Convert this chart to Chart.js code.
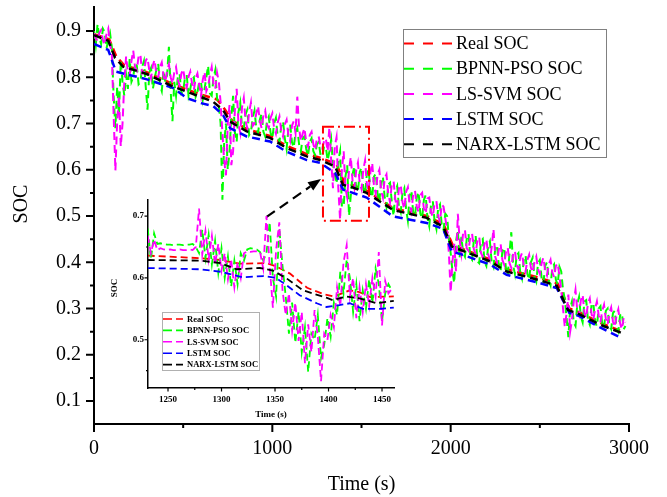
<!DOCTYPE html>
<html>
<head>
<meta charset="utf-8">
<script src="https://cdn.jsdelivr.net/npm/chart.js@4.4.0/dist/chart.umd.min.js"></script>
<style>
  html, body { margin: 0; padding: 0; background: #fff; }
  #wrap { position: relative; width: 667px; height: 497px; }
  #wrap canvas { position: absolute; left: 0; top: 0; }
</style>
</head>
<body>
<div id="wrap">
  <canvas id="mainChart" width="667" height="497"></canvas>
  <canvas id="insetChart" width="667" height="497"></canvas>
</div>
<script>
const seriesLabels = ['Real SOC', 'BPNN-PSO SOC', 'LS-SVM SOC', 'LSTM SOC', 'NARX-LSTM SOC'];
const seriesColors = ['#ff0000', '#00ff00', '#ff00ff', '#0000ff', '#000000'];

// main plot: smooth curves, (time, soc) at each corner
const realT = [0, 85, 125, 170, 295, 443, 595, 690, 735, 775, 856, 987, 1080, 1193, 1268, 1360, 1405, 1436, 1529, 1677, 1866, 1960, 2012, 2053, 2221, 2314, 2501, 2600, 2665, 2725, 2838, 2965];
const realSoc = [0.893, 0.882, 0.845, 0.826, 0.811, 0.785, 0.763, 0.752, 0.730, 0.706, 0.688, 0.673, 0.652, 0.634, 0.626, 0.612, 0.571, 0.569, 0.555, 0.517, 0.500, 0.482, 0.437, 0.431, 0.406, 0.385, 0.366, 0.354, 0.300, 0.291, 0.269, 0.250];
const lstmT = [0, 80, 123, 292, 443, 520, 600, 668, 724, 763, 856, 987, 1080, 1193, 1268, 1352, 1397, 1490, 1529, 1677, 1866, 1958, 2006, 2053, 2221, 2314, 2501, 2595, 2665, 2725, 2838, 2960];
const lstmSoc = [0.872, 0.859, 0.812, 0.796, 0.777, 0.755, 0.744, 0.738, 0.718, 0.690, 0.672, 0.661, 0.639, 0.621, 0.615, 0.593, 0.557, 0.545, 0.540, 0.499, 0.485, 0.472, 0.423, 0.418, 0.395, 0.373, 0.355, 0.344, 0.291, 0.283, 0.259, 0.236];
const narxT = [0, 80, 118, 163, 295, 443, 595, 668, 724, 763, 856, 987, 1080, 1193, 1268, 1352, 1397, 1436, 1529, 1677, 1866, 1958, 2006, 2053, 2221, 2314, 2501, 2595, 2658, 2725, 2838, 2960];
const narxSoc = [0.891, 0.879, 0.842, 0.823, 0.807, 0.780, 0.758, 0.747, 0.729, 0.704, 0.683, 0.669, 0.647, 0.629, 0.621, 0.607, 0.567, 0.564, 0.550, 0.513, 0.496, 0.477, 0.434, 0.427, 0.402, 0.380, 0.361, 0.349, 0.297, 0.287, 0.265, 0.247];

// main plot: noisy estimates, one value every 10 s starting at 0 s (one row = 200 s)
const noiseStart = 0;
const noiseStep = 10;
const bpnnSoc = [
  0.900, 0.870, 0.915, 0.885, 0.872, 0.905, 0.898, 0.862, 0.880, 0.895, 0.865, 0.760, 0.690, 0.780, 0.720, 0.835, 0.790, 0.760, 0.805, 0.775,
  0.840, 0.790, 0.800, 0.830, 0.825, 0.785, 0.790, 0.822, 0.835, 0.780, 0.730, 0.810, 0.820, 0.775, 0.795, 0.818, 0.830, 0.782, 0.770, 0.815,
  0.790, 0.805, 0.866, 0.770, 0.705, 0.790, 0.760, 0.800, 0.808, 0.765, 0.770, 0.798, 0.805, 0.760, 0.775, 0.795, 0.800, 0.758, 0.768, 0.790,
  0.790, 0.752, 0.775, 0.800, 0.825, 0.765, 0.760, 0.798, 0.815, 0.755, 0.740, 0.700, 0.535, 0.660, 0.700, 0.600, 0.640, 0.715, 0.760, 0.680,
  0.660, 0.725, 0.745, 0.690, 0.690, 0.720, 0.730, 0.675, 0.682, 0.712, 0.728, 0.690, 0.680, 0.708, 0.722, 0.682, 0.672, 0.705, 0.715, 0.680,
  0.668, 0.700, 0.712, 0.672, 0.660, 0.695, 0.705, 0.668, 0.645, 0.688, 0.698, 0.660, 0.648, 0.680, 0.690, 0.655, 0.640, 0.668, 0.672, 0.645,
  0.630, 0.660, 0.668, 0.640, 0.632, 0.655, 0.660, 0.632, 0.628, 0.650, 0.650, 0.620, 0.640, 0.665, 0.612, 0.590, 0.570, 0.620, 0.640, 0.520,
  0.520, 0.585, 0.610, 0.500, 0.545, 0.590, 0.608, 0.560, 0.552, 0.595, 0.605, 0.560, 0.548, 0.590, 0.600, 0.555, 0.540, 0.585, 0.592, 0.550,
  0.530, 0.575, 0.585, 0.540, 0.520, 0.568, 0.572, 0.530, 0.500, 0.555, 0.565, 0.520, 0.508, 0.550, 0.560, 0.515, 0.490, 0.545, 0.555, 0.505,
  0.500, 0.540, 0.552, 0.505, 0.495, 0.535, 0.545, 0.495, 0.478, 0.525, 0.532, 0.488, 0.472, 0.518, 0.525, 0.480, 0.470, 0.505, 0.500, 0.450,
  0.420, 0.380, 0.355, 0.445, 0.470, 0.410, 0.455, 0.420, 0.412, 0.450, 0.462, 0.410, 0.405, 0.448, 0.458, 0.402, 0.398, 0.445, 0.450, 0.400,
  0.392, 0.435, 0.445, 0.400, 0.390, 0.430, 0.438, 0.392, 0.380, 0.425, 0.432, 0.385, 0.372, 0.420, 0.465, 0.395, 0.375, 0.415, 0.420, 0.378,
  0.365, 0.405, 0.415, 0.375, 0.362, 0.400, 0.410, 0.368, 0.358, 0.398, 0.405, 0.365, 0.355, 0.392, 0.400, 0.360, 0.350, 0.388, 0.395, 0.362,
  0.352, 0.390, 0.380, 0.340, 0.320, 0.280, 0.238, 0.300, 0.315, 0.270, 0.262, 0.310, 0.325, 0.282, 0.270, 0.315, 0.318, 0.275, 0.265, 0.308,
  0.312, 0.270, 0.262, 0.300, 0.305, 0.265, 0.258, 0.295, 0.300, 0.262, 0.255, 0.290, 0.295, 0.258, 0.250, 0.285, 0.290, 0.255, 0.262
];
const svmSoc = [
  0.895, 0.884, 0.878, 0.896, 0.902, 0.881, 0.870, 0.893, 0.905, 0.870, 0.852, 0.720, 0.598, 0.705, 0.760, 0.650, 0.700, 0.790, 0.845, 0.812,
  0.805, 0.835, 0.858, 0.822, 0.815, 0.845, 0.850, 0.808, 0.812, 0.836, 0.842, 0.815, 0.798, 0.826, 0.838, 0.805, 0.800, 0.822, 0.832, 0.802,
  0.790, 0.815, 0.828, 0.800, 0.786, 0.810, 0.822, 0.795, 0.782, 0.808, 0.818, 0.792, 0.778, 0.801, 0.812, 0.786, 0.772, 0.798, 0.808, 0.784,
  0.760, 0.795, 0.812, 0.770, 0.780, 0.805, 0.822, 0.785, 0.775, 0.810, 0.790, 0.745, 0.680, 0.620, 0.588, 0.700, 0.740, 0.610, 0.640, 0.730,
  0.775, 0.700, 0.680, 0.735, 0.755, 0.705, 0.690, 0.725, 0.745, 0.695, 0.700, 0.722, 0.738, 0.705, 0.690, 0.718, 0.728, 0.698, 0.690, 0.712,
  0.722, 0.690, 0.678, 0.702, 0.715, 0.685, 0.672, 0.698, 0.708, 0.675, 0.662, 0.695, 0.705, 0.680, 0.758, 0.690, 0.662, 0.678, 0.690, 0.660,
  0.650, 0.675, 0.682, 0.655, 0.642, 0.668, 0.672, 0.650, 0.645, 0.662, 0.668, 0.640, 0.692, 0.620, 0.560, 0.650, 0.670, 0.560, 0.492, 0.600,
  0.640, 0.560, 0.540, 0.600, 0.628, 0.575, 0.560, 0.598, 0.615, 0.570, 0.558, 0.600, 0.620, 0.568, 0.555, 0.595, 0.615, 0.565, 0.548, 0.590,
  0.600, 0.555, 0.540, 0.582, 0.590, 0.548, 0.530, 0.570, 0.575, 0.535, 0.518, 0.560, 0.568, 0.530, 0.515, 0.552, 0.562, 0.525, 0.510, 0.548,
  0.555, 0.520, 0.508, 0.545, 0.550, 0.515, 0.505, 0.538, 0.540, 0.508, 0.498, 0.528, 0.532, 0.500, 0.488, 0.525, 0.520, 0.495, 0.470, 0.420,
  0.335, 0.400, 0.440, 0.380, 0.505, 0.450, 0.420, 0.465, 0.470, 0.430, 0.425, 0.455, 0.462, 0.428, 0.418, 0.448, 0.455, 0.420, 0.412, 0.440,
  0.450, 0.418, 0.405, 0.432, 0.472, 0.412, 0.400, 0.428, 0.440, 0.405, 0.395, 0.422, 0.432, 0.398, 0.388, 0.418, 0.425, 0.395, 0.385, 0.410,
  0.420, 0.392, 0.380, 0.405, 0.416, 0.388, 0.378, 0.400, 0.412, 0.385, 0.375, 0.398, 0.410, 0.382, 0.372, 0.395, 0.405, 0.378, 0.368, 0.392,
  0.398, 0.370, 0.340, 0.300, 0.260, 0.290, 0.330, 0.250, 0.275, 0.315, 0.340, 0.295, 0.285, 0.318, 0.330, 0.292, 0.280, 0.312, 0.322, 0.288,
  0.275, 0.300, 0.315, 0.285, 0.270, 0.295, 0.308, 0.278, 0.265, 0.290, 0.302, 0.272, 0.260, 0.285, 0.298, 0.268, 0.255, 0.280, 0.270
];

const xTicks = [0, 1000, 2000, 3000];
const xMinorTicks = [500, 1500, 2500];
const yTicks = [0.1, 0.2, 0.3, 0.4, 0.5, 0.6, 0.7, 0.8, 0.9];
const yMinorTicks = [0.15, 0.25, 0.35, 0.45, 0.55, 0.65, 0.75, 0.85];

// zoom marker: box [t0, t1, socLow, socHigh], arrow [t, soc] -> [t, soc]
const zoomBox = [1284, 1542, 0.49, 0.693];
const zoomArrow = [[968, 0.498], [1273, 0.580]];

// inset (1231 s .. 1461 s)
const insetRealT = [1231, 1280, 1299, 1317, 1342, 1352, 1364, 1380, 1395, 1405, 1420, 1429, 1439, 1461];
const insetRealSoc = [0.636, 0.632, 0.629, 0.623, 0.624, 0.618, 0.607, 0.584, 0.574, 0.570, 0.580, 0.577, 0.569, 0.570];
const insetLstmT = [1231, 1280, 1299, 1320, 1339, 1351, 1361, 1373, 1389, 1398, 1410, 1420, 1432, 1448, 1461];
const insetLstmSoc = [0.616, 0.614, 0.610, 0.601, 0.603, 0.600, 0.588, 0.572, 0.559, 0.553, 0.556, 0.559, 0.550, 0.550, 0.552];
const insetNarxT = [1231, 1280, 1299, 1314, 1336, 1348, 1361, 1376, 1398, 1404, 1417, 1429, 1445, 1461];
const insetNarxSoc = [0.629, 0.628, 0.624, 0.614, 0.616, 0.612, 0.599, 0.580, 0.568, 0.564, 0.570, 0.567, 0.559, 0.563];

// inset noisy estimates, one value every 3 s starting at 1231 s
const insetStart = 1231;
const insetStep = 3;
const insetBpnnSoc = [
  0.680, 0.630, 0.672, 0.655, 0.656, 0.655, 0.654, 0.654, 0.653, 0.654,
  0.654, 0.653, 0.654, 0.654, 0.655, 0.650, 0.640, 0.678, 0.632, 0.670,
  0.622, 0.660, 0.608, 0.648, 0.600, 0.635, 0.586, 0.628, 0.590, 0.640,
  0.628, 0.646, 0.648, 0.647, 0.646, 0.642, 0.628, 0.640, 0.690, 0.600,
  0.570, 0.680, 0.620, 0.570, 0.510, 0.560, 0.495, 0.545, 0.480, 0.520,
  0.448, 0.510, 0.500, 0.540, 0.470, 0.492, 0.535, 0.505, 0.560, 0.540,
  0.610, 0.575, 0.630, 0.600, 0.545, 0.590, 0.530, 0.580, 0.550, 0.598,
  0.560, 0.615, 0.590, 0.530, 0.575, 0.590, 0.580
];
const insetSvmSoc = [
  0.668, 0.640, 0.662, 0.645, 0.648, 0.646, 0.645, 0.646, 0.645, 0.645,
  0.646, 0.645, 0.645, 0.646, 0.645, 0.650, 0.712, 0.638, 0.676, 0.630,
  0.668, 0.622, 0.655, 0.612, 0.640, 0.598, 0.630, 0.585, 0.625, 0.600,
  0.640, 0.643, 0.642, 0.643, 0.643, 0.642, 0.615, 0.700, 0.620, 0.552,
  0.645, 0.690, 0.580, 0.540, 0.575, 0.515, 0.560, 0.498, 0.545, 0.462,
  0.525, 0.480, 0.548, 0.505, 0.433, 0.510, 0.500, 0.540, 0.520, 0.585,
  0.555, 0.625, 0.653, 0.570, 0.600, 0.535, 0.585, 0.545, 0.590, 0.555,
  0.600, 0.570, 0.642, 0.523, 0.595, 0.575, 0.582
];
const insetXTicks = [1250, 1300, 1350, 1400, 1450];
const insetXMinorTicks = [1275, 1325, 1375, 1425];
const insetYTicks = [0.5, 0.6, 0.7];
const insetYMinorTicks = [0.45, 0.55, 0.65];

const SERIF = "'Liberation Serif', 'Times New Roman', serif";

function pts(ts, vs) {
  return vs.map((v, i) => ({ x: ts[i], y: v }));
}
function evenPts(t0, step, vs) {
  return vs.map((v, i) => ({ x: t0 + i * step, y: v }));
}

// tick marks (major + minor) and the rotated y title
const axisDecor = {
  id: 'axisDecor',
  afterDraw(chart, args, o) {
    const ctx = chart.ctx;
    const xs = chart.scales.x, ys = chart.scales.y;
    const a = chart.chartArea;
    ctx.save();
    ctx.strokeStyle = '#000';
    ctx.lineWidth = o.tickWidth;
    ctx.beginPath();
    o.xMajor.forEach(v => { const p = xs.getPixelForValue(v); ctx.moveTo(p, a.bottom); ctx.lineTo(p, a.bottom + o.majorLen); });
    o.xMinor.forEach(v => { const p = xs.getPixelForValue(v); ctx.moveTo(p, a.bottom); ctx.lineTo(p, a.bottom + o.minorLen); });
    o.yMajor.forEach(v => { const p = ys.getPixelForValue(v); ctx.moveTo(a.left, p); ctx.lineTo(a.left - o.majorLen, p); });
    o.yMinor.forEach(v => { const p = ys.getPixelForValue(v); ctx.moveTo(a.left, p); ctx.lineTo(a.left - o.minorLen, p); });
    ctx.stroke();
    ctx.translate(o.yTitle.x, o.yTitle.y);
    ctx.rotate(-Math.PI / 2);
    ctx.font = o.yTitle.font;
    ctx.fillStyle = '#000';
    ctx.textAlign = 'center';
    ctx.textBaseline = 'middle';
    ctx.fillText(o.yTitle.text, 0, 0);
    ctx.restore();
  }
};

// boxed legend drawn inside the plot
const boxLegend = {
  id: 'boxLegend',
  afterDraw(chart, args, o) {
    const ctx = chart.ctx;
    ctx.save();
    ctx.fillStyle = '#fff';
    ctx.fillRect(o.x, o.y, o.w, o.h);
    ctx.strokeStyle = o.borderColor;
    ctx.lineWidth = 1;
    ctx.strokeRect(o.x + 0.5, o.y + 0.5, o.w, o.h);
    ctx.font = o.font;
    ctx.textAlign = 'left';
    ctx.textBaseline = 'middle';
    chart.data.datasets.forEach((ds, i) => {
      const cy = o.y + o.firstRow + i * o.rowH;
      ctx.strokeStyle = ds.borderColor;
      ctx.lineWidth = o.lineWidth;
      ctx.setLineDash(o.dash);
      ctx.beginPath();
      ctx.moveTo(o.x + o.sampleX, cy);
      ctx.lineTo(o.x + o.sampleX + o.sampleW, cy);
      ctx.stroke();
      ctx.setLineDash([]);
      ctx.fillStyle = '#000';
      ctx.fillText(ds.label, o.x + o.textX, cy + o.textDy);
    });
    ctx.restore();
  }
};

// red dash-dot box and dashed arrow pointing at it
const zoomMark = {
  id: 'zoomMark',
  afterDatasetsDraw(chart, args, o) {
    if (!o.box) return;
    const ctx = chart.ctx;
    const xs = chart.scales.x, ys = chart.scales.y;
    const x0 = xs.getPixelForValue(o.box[0]), x1 = xs.getPixelForValue(o.box[1]);
    const y0 = ys.getPixelForValue(o.box[3]), y1 = ys.getPixelForValue(o.box[2]);
    ctx.save();
    ctx.strokeStyle = '#ff0000';
    ctx.lineWidth = 2;
    ctx.setLineDash([11, 4, 2, 4]);
    ctx.strokeRect(x0, y0, x1 - x0, y1 - y0);

    const ax0 = xs.getPixelForValue(o.arrow[0][0]), ay0 = ys.getPixelForValue(o.arrow[0][1]);
    const ax1 = xs.getPixelForValue(o.arrow[1][0]), ay1 = ys.getPixelForValue(o.arrow[1][1]);
    const ang = Math.atan2(ay1 - ay0, ax1 - ax0);
    const head = 13, half = 5;
    const bx = ax1 - head * Math.cos(ang), by = ay1 - head * Math.sin(ang);
    ctx.strokeStyle = '#000';
    ctx.lineWidth = 2.2;
    ctx.setLineDash([10, 6]);
    ctx.beginPath();
    ctx.moveTo(ax0, ay0);
    ctx.lineTo(bx, by);
    ctx.stroke();
    ctx.setLineDash([]);
    ctx.fillStyle = '#000';
    ctx.beginPath();
    ctx.moveTo(ax1, ay1);
    ctx.lineTo(bx + half * Math.sin(ang), by - half * Math.cos(ang));
    ctx.lineTo(bx - half * Math.sin(ang), by + half * Math.cos(ang));
    ctx.closePath();
    ctx.fill();
    ctx.restore();
  }
};

function lineSet(i, data, width, dash, order) {
  return {
    label: seriesLabels[i],
    data: data,
    borderColor: seriesColors[i],
    backgroundColor: seriesColors[i],
    borderWidth: width,
    borderDash: dash,
    order: order
  };
}

function axisOpts(min, max, ticks, fmt, font, pad, border, fit) {
  return {
    type: 'linear',
    min: min,
    max: max,
    afterBuildTicks: s => { s.ticks = ticks.map(v => ({ value: v })); },
    afterFit: fit,
    grid: { display: false, drawTicks: false },
    border: { display: true, color: '#000', width: border },
    ticks: { font: font, color: '#000', padding: pad, maxRotation: 0, autoSkip: false, callback: fmt }
  };
}

// ---- main chart ----
const mainFont = { family: SERIF, size: 20 };
const mainDash = [8, 5];
const mainX = axisOpts(0, 3000, xTicks, v => String(v), mainFont, 13, 2,
  s => { s.height = 73; s.paddingLeft = 0; s.paddingRight = 0; });
mainX.title = { display: true, text: 'Time (s)', font: mainFont, color: '#000', padding: { top: 0, bottom: 0 } };
const mainY = axisOpts(0.0503, 0.9519, yTicks, v => v.toFixed(1), mainFont, 13, 2,
  s => { s.width = 94; s.paddingTop = 0; s.paddingBottom = 0; });

new Chart(document.getElementById('mainChart'), {
  type: 'line',
  data: {
    datasets: [
      lineSet(0, pts(realT, realSoc), 2.5, mainDash, 4),
      lineSet(1, evenPts(noiseStart, noiseStep, bpnnSoc), 2, mainDash, 3),
      lineSet(2, evenPts(noiseStart, noiseStep, svmSoc), 2, mainDash, 2),
      lineSet(3, pts(lstmT, lstmSoc), 2.5, mainDash, 1),
      lineSet(4, pts(narxT, narxSoc), 2.5, mainDash, 0)
    ]
  },
  options: {
    responsive: false,
    animation: false,
    layout: { padding: { left: 0, right: 38, top: 7, bottom: 0 } },
    elements: { point: { radius: 0 }, line: { tension: 0, fill: false } },
    scales: { x: mainX, y: mainY },
    plugins: {
      legend: { display: false },
      tooltip: { enabled: false },
      axisDecor: {
        tickWidth: 2, majorLen: 8, minorLen: 4,
        xMajor: xTicks, xMinor: xMinorTicks, yMajor: yTicks, yMinor: yMinorTicks,
        yTitle: { text: 'SOC', x: 22, y: 204, font: '20px ' + SERIF }
      },
      boxLegend: {
        x: 403, y: 29, w: 203, h: 128, firstRow: 14.5, rowH: 25.2,
        sampleX: 1, sampleW: 48, textX: 53, textDy: 1, lineWidth: 2,
        dash: [10, 9], font: '18px ' + SERIF, borderColor: '#808080'
      },
      zoomMark: { box: zoomBox, arrow: zoomArrow }
    }
  },
  plugins: [zoomMark, axisDecor, boxLegend]
});

// ---- inset chart ----
const insetFont = { family: SERIF, size: 9, weight: 'bold' };
const insetDash = [7, 4];
const insetX = axisOpts(1231.3, 1461.2, insetXTicks, v => String(v), insetFont, 6, 1.5,
  s => { s.height = 32; s.paddingLeft = 0; s.paddingRight = 0; });
insetX.title = { display: true, text: 'Time (s)', font: insetFont, color: '#000', padding: { top: 0, bottom: 0 } };
const insetY = axisOpts(0.422, 0.726, insetYTicks, v => v.toFixed(1), insetFont, 4, 1.5,
  s => { s.width = 48; s.paddingTop = 0; s.paddingBottom = 0; });

new Chart(document.getElementById('insetChart'), {
  type: 'line',
  data: {
    datasets: [
      lineSet(0, pts(insetRealT, insetRealSoc), 1.8, insetDash, 4),
      lineSet(1, evenPts(insetStart, insetStep, insetBpnnSoc), 1.8, insetDash, 3),
      lineSet(2, evenPts(insetStart, insetStep, insetSvmSoc), 1.8, insetDash, 2),
      lineSet(3, pts(insetLstmT, insetLstmSoc), 1.8, insetDash, 1),
      lineSet(4, pts(insetNarxT, insetNarxSoc), 1.8, insetDash, 0)
    ]
  },
  options: {
    responsive: false,
    animation: false,
    layout: { padding: { left: 100, right: 273, top: 200, bottom: 77 } },
    elements: { point: { radius: 0 }, line: { tension: 0, fill: false } },
    scales: { x: insetX, y: insetY },
    plugins: {
      legend: { display: false },
      tooltip: { enabled: false },
      axisDecor: {
        tickWidth: 1.2, majorLen: 3.5, minorLen: 2,
        xMajor: insetXTicks, xMinor: insetXMinorTicks, yMajor: insetYTicks, yMinor: insetYMinorTicks,
        yTitle: { text: 'SOC', x: 115, y: 288, font: 'bold 9px ' + SERIF }
      },
      boxLegend: {
        x: 162, y: 312, w: 97, h: 58, firstRow: 7, rowH: 11.4,
        sampleX: 1, sampleW: 20, textX: 25, textDy: 0.5, lineWidth: 1.6,
        dash: [9, 4], font: 'bold 8.5px ' + SERIF, borderColor: '#b0b0b0'
      }
    }
  },
  plugins: [axisDecor, boxLegend]
});
</script>
</body>
</html>
